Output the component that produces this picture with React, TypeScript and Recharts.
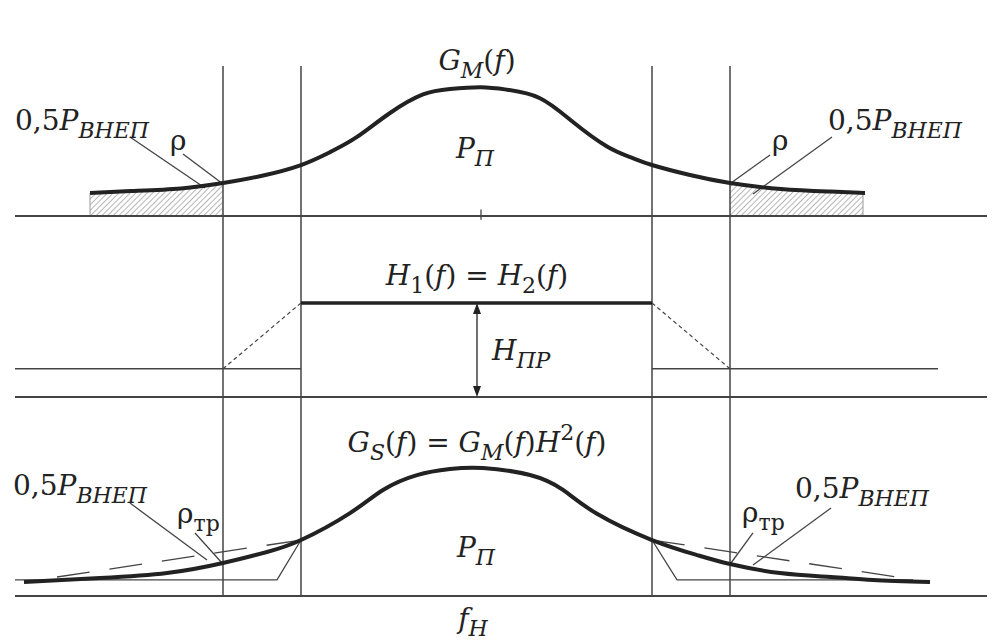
import React from "react";
import {
  ComposedChart,
  Line,
  Area,
  XAxis,
  YAxis,
  ReferenceLine,
  ReferenceDot,
} from "recharts";

// frequency axis (1 unit = 10 px), shared by all three panels
const fDomain = [-47, 52];
const fStart = -46.6;
const fEnd = 50.6;
const guardEdges = [-25.8, 24.9];
const passEdges = [-18, 17.1];
const guideTop = 1.165; // top of the vertical guides in the first panel

// panel 1: G_M(f)
const gmF = [-39.1, -35, -30, -25.8, -22, -18, -15, -12.4, -9.1, -5.8, -3.1, 0, 2.6, 5.9, 9.2, 12.6, 15, 17.1, 20.9, 24.9, 30, 35, 38.4];
const gmY = [0.179, 0.194, 0.214, 0.256, 0.311, 0.396, 0.5, 0.614, 0.8, 0.944, 0.987, 1.0, 0.981, 0.915, 0.73, 0.54, 0.455, 0.396, 0.318, 0.256, 0.21, 0.19, 0.179];
const hatchLeftF = [-39.1, -35, -30, -25.8];
const hatchLeftY = [0.179, 0.194, 0.214, 0.256];
const hatchRightF = [24.9, 30, 35, 38.2];
const hatchRightY = [0.256, 0.21, 0.19, 0.179];

// panel 2: H1(f) = H2(f)
const hPassF = [-18, 17.1];
const hPassY = [1, 1];
const hStopLeftF = [fStart, -18];
const hStopRightF = [17.1, 45.7];
const hStop = 0.3;
const hSlopeLeftF = [-25.8, -18];
const hSlopeLeftY = [0.3, 1];
const hSlopeRightF = [17.1, 24.9];
const hSlopeRightY = [1, 0.3];
const arrowF = -0.4;

// panel 3: G_S(f) = G_M(f)H^2(f)
const gsF = [-45.7, -38.1, -31.4, -25.8, -21.4, -18, -13.1, -9.8, -6.4, -3.1, 0.2, 4.9, 8.2, 11.6, 17.1, 21.6, 24.9, 29.9, 35, 39.2, 44.9];
const gsY = [0.109, 0.14, 0.179, 0.257, 0.343, 0.436, 0.646, 0.826, 0.942, 0.989, 0.997, 0.942, 0.826, 0.64, 0.436, 0.319, 0.249, 0.179, 0.148, 0.125, 0.109];
const gmTailLeftF = [-42.4, -18];
const gmTailLeftY = [0.148, 0.436];
const gmTailRightF = [17.1, 41.6];
const gmTailRightY = [0.436, 0.148];
const bracketLeftF = [fStart, -20.4, -18];
const bracketLeftY = [0.125, 0.125, 0.436];
const bracketRightF = [17.1, 19.6, 43.2];
const bracketRightY = [0.436, 0.125, 0.125];

// leader lines [f1, y1, f2, y2]
const leaders1 = [
  [-35.1, 0.614, -27.6, 0.217],
  [-29.8, 0.482, -25.8, 0.249],
  [28.9, 0.474, 25.0, 0.256],
  [35.1, 0.614, 27.2, 0.171],
];
const leaders3 = [
  [-35.1, 0.724, -27.4, 0.28],
  [-28.6, 0.491, -25.9, 0.257],
  [27.2, 0.491, 25.0, 0.257],
  [35.0, 0.685, 27.2, 0.241],
];

type Part = { t: string; i?: boolean; sub?: boolean; sup?: boolean };
type Lbl = { f: number; y: number; parts: Part[]; anchor: "start" | "middle" | "end" };

const pOut: Part[] = [{ t: "0,5" }, { t: "P", i: true }, { t: "ВНЕП", i: true, sub: true }];
const rho: Part[] = [{ t: "ρ" }];
const rhoTr: Part[] = [{ t: "ρ" }, { t: "тр", sub: true }];
const pPass: Part[] = [{ t: "P", i: true }, { t: "П", i: true, sub: true }];

const labels1: Lbl[] = [
  { f: -46.6, y: 0.668, parts: pOut, anchor: "start" },
  { f: -31.1, y: 0.513, parts: rho, anchor: "start" },
  { f: 29.1, y: 0.513, parts: rho, anchor: "start" },
  { f: 34.7, y: 0.668, parts: pOut, anchor: "start" },
  { f: -0.4, y: 1.134, parts: [{ t: "G", i: true }, { t: "M", i: true, sub: true }, { t: "(" }, { t: "f", i: true }, { t: ")" }], anchor: "middle" },
  { f: -0.6, y: 0.45, parts: pPass, anchor: "middle" },
];
const labels2: Lbl[] = [
  {
    f: -0.4, y: 1.191, anchor: "middle",
    parts: [{ t: "H", i: true }, { t: "1", sub: true }, { t: "(" }, { t: "f", i: true }, { t: ") = " }, { t: "H", i: true }, { t: "2", sub: true }, { t: "(" }, { t: "f", i: true }, { t: ")" }],
  },
  { f: 1.1, y: 0.394, parts: [{ t: "H", i: true }, { t: "ПР", i: true, sub: true }], anchor: "start" },
];
const labels3: Lbl[] = [
  {
    f: -0.4, y: 1.121, anchor: "middle",
    parts: [
      { t: "G", i: true }, { t: "S", i: true, sub: true }, { t: "(" }, { t: "f", i: true }, { t: ") = " },
      { t: "G", i: true }, { t: "M", i: true, sub: true }, { t: "(" }, { t: "f", i: true }, { t: ")" },
      { t: "H", i: true }, { t: "2", sup: true }, { t: "(" }, { t: "f", i: true }, { t: ")" },
    ],
  },
  { f: -0.5, y: 0.304, parts: pPass, anchor: "middle" },
  { f: -46.8, y: 0.787, parts: pOut, anchor: "start" },
  { f: -30.4, y: 0.569, parts: rhoTr, anchor: "start" },
  { f: 26.1, y: 0.576, parts: rhoTr, anchor: "start" },
  { f: 31.4, y: 0.763, parts: pOut, anchor: "start" },
  { f: -0.8, y: -0.249, parts: [{ t: "f", i: true }, { t: "H", i: true, sub: true }], anchor: "middle" },
];

const pts = (fs: number[], ys: number[]) => fs.map((f, i) => ({ f, y: ys[i] }));
const flat = (fs: number[], v: number) => fs.map((f) => ({ f, y: v }));

const INK = "#222";
const THIN = "#444";
const FONT = "'DejaVu Serif', serif";
const SIZE = 28;
const SUB = 22;

const MathText = ({ x, y, parts, anchor }: { x: number; y: number; parts: Part[]; anchor: string }) => {
  let cur = 0;
  return (
    <text x={x} y={y} textAnchor={anchor as any} fontFamily={FONT} fontSize={SIZE} fill={INK} style={{ whiteSpace: "pre" }}>
      {parts.map((p, k) => {
        const off = p.sub ? 8 : p.sup ? -12 : 0;
        const dy = off - cur;
        cur = off;
        return (
          <tspan key={k} dy={dy} fontStyle={p.i ? "italic" : "normal"} fontSize={p.sub || p.sup ? SUB : SIZE}>
            {p.t}
          </tspan>
        );
      })}
    </text>
  );
};

const seg = (data: { f: number; y: number }[], key: string, width: number, color = THIN, dash?: string, curve: any = "linear") => (
  <Line
    key={key}
    data={data}
    dataKey="y"
    type={curve}
    stroke={color}
    strokeWidth={width}
    strokeDasharray={dash}
    dot={false}
    activeDot={false}
    legendType="none"
    isAnimationActive={false}
  />
);

const labelDots = (list: Lbl[], prefix: string) =>
  list.map((l, k) => (
    <ReferenceDot
      key={prefix + k}
      x={l.f}
      y={l.y}
      r={0}
      ifOverflow="visible"
      shape={(p: any) => <MathText x={p.cx} y={p.cy} parts={l.parts} anchor={l.anchor} />}
    />
  ));

const leaderLines = (list: number[][], prefix: string) =>
  list.map((s, k) => seg([{ f: s[0], y: s[1] }, { f: s[2], y: s[3] }], prefix + k, 1.3));

const axes = (yMax: number) => [
  <XAxis key="x" type="number" dataKey="f" domain={fDomain} hide />,
  <YAxis key="y" type="number" domain={[0, yMax]} hide />,
];

const margin = (top: number, bottom: number) => ({ top, bottom, left: 11, right: 7 });

const Arrow = (p: any) => {
  const { x1, y1, x2, y2 } = p;
  const top = Math.min(y1, y2);
  const bot = Math.max(y1, y2);
  return (
    <g>
      <line x1={x1} y1={top + 8} x2={x2} y2={bot - 8} stroke={INK} strokeWidth={1.3} />
      <path d={`M${x1},${top} l-4,11 l8,0 z`} fill={INK} />
      <path d={`M${x1},${bot} l-4,-11 l8,0 z`} fill={INK} />
    </g>
  );
};

export default function App() {
  return (
    <div style={{ position: "absolute", left: 0, top: 0, width: 1008, height: 644, background: "#fff" }}>
      {/* panel 1 */}
      <div style={{ position: "absolute", left: 0, top: 0 }}>
        <ComposedChart width={1008} height={226} margin={margin(10, 10)}>
          <defs>
            <pattern id="hatch" patternUnits="userSpaceOnUse" width="4" height="4" patternTransform="rotate(45)">
              <line x1="0" y1="0" x2="0" y2="4" stroke="#6e6e6e" strokeWidth="1" />
            </pattern>
          </defs>
          {axes(1.6)}
          <Area data={pts(hatchLeftF, hatchLeftY)} dataKey="y" type="natural" fill="url(#hatch)" fillOpacity={1} stroke="none" isAnimationActive={false} legendType="none" />
          <Area data={pts(hatchRightF, hatchRightY)} dataKey="y" type="natural" fill="url(#hatch)" fillOpacity={1} stroke="none" isAnimationActive={false} legendType="none" />
          {seg(pts([hatchLeftF[0], hatchLeftF[0]], [0, hatchLeftY[0]]), "hl", 1, "#999")}
          {seg(pts([hatchRightF[3], hatchRightF[3]], [0, hatchRightY[3]]), "hr", 1, "#999")}
          {[...guardEdges, ...passEdges].map((f) => (
            <ReferenceLine key={f} segment={[{ x: f, y: 0 }, { x: f, y: guideTop }]} stroke={THIN} strokeWidth={1.5} ifOverflow="visible" />
          ))}
          <ReferenceLine segment={[{ x: 0, y: -0.03 }, { x: 0, y: 0.05 }]} stroke={THIN} strokeWidth={1.3} ifOverflow="visible" />
          {seg(flat([fStart, fEnd], 0), "base1", 2)}
          {leaderLines(leaders1, "l1")}
          {seg(pts(gmF, gmY), "gm", 4, INK, undefined, "natural")}
          {labelDots(labels1, "t1")}
        </ComposedChart>
      </div>
      {/* panel 2 */}
      <div style={{ position: "absolute", left: 0, top: 206 }}>
        <ComposedChart width={1008} height={201} margin={margin(10, 10)}>
          {axes(1.925)}
          {[...guardEdges, ...passEdges].map((f) => (
            <ReferenceLine key={f} x={f} stroke={THIN} strokeWidth={1.5} ifOverflow="visible" />
          ))}
          {seg(flat([fStart, fEnd], 0), "base2", 2)}
          {seg(flat(hStopLeftF, hStop), "sl", 1.5)}
          {seg(flat(hStopRightF, hStop), "sr", 1.5)}
          {seg(pts(hSlopeLeftF, hSlopeLeftY), "dl", 1.2, THIN, "4 3")}
          {seg(pts(hSlopeRightF, hSlopeRightY), "dr", 1.2, THIN, "4 3")}
          {seg(pts(hPassF, hPassY), "hp", 3.5, INK)}
          <ReferenceLine segment={[{ x: arrowF, y: 0 }, { x: arrowF, y: 1 }]} shape={Arrow} ifOverflow="visible" />
          {labelDots(labels2, "t2")}
        </ComposedChart>
      </div>
      {/* panel 3 */}
      <div style={{ position: "absolute", left: 0, top: 387 }}>
        <ComposedChart width={1008} height={257} margin={margin(10, 48)}>
          {axes(1.55)}
          {[...guardEdges, ...passEdges].map((f) => (
            <ReferenceLine key={f} x={f} stroke={THIN} strokeWidth={1.5} ifOverflow="visible" />
          ))}
          {seg(flat([fStart, fEnd], 0), "base3", 2)}
          {seg(pts(bracketLeftF, bracketLeftY), "bl", 1.3)}
          {seg(pts(bracketRightF, bracketRightY), "br", 1.3)}
          {seg(pts(gmTailLeftF, gmTailLeftY), "tl", 1.3, THIN, "33 20")}
          {seg(pts(gmTailRightF, gmTailRightY), "tr", 1.3, THIN, "33 20")}
          {leaderLines(leaders3, "l3")}
          {seg(pts(gsF, gsY), "gs", 4, INK, undefined, "natural")}
          {labelDots(labels3, "t3")}
        </ComposedChart>
      </div>
    </div>
  );
}
